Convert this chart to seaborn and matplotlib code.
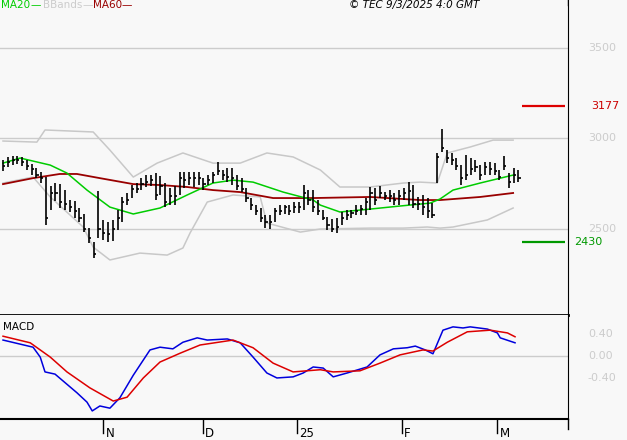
import numpy as np
import pandas as pd
import seaborn as sns
import matplotlib
matplotlib.use("Agg")
import matplotlib.pyplot as plt

high = [2881,2898,2903,2903,2898,2881,2859,2837,2815,2787,2737,2754,2748,2715,2660,2654,2616,2583,2505,2428,
        2710,2550,2538,2550,2605,2677,2699,2743,2754,2781,2798,2798,2809,2793,2754,2726,2737,2815,2815,2815,
        2815,2815,2781,2798,2815,2870,2826,2837,2837,2798,2781,2726,2671,2632,2616,2577,2577,2616,2632,2632,
        2632,2649,2649,2743,2715,2715,2660,2605,2566,2555,2561,2594,2605,2605,2632,2632,2671,2732,2726,2737,
        2704,2715,2699,2715,2726,2759,2743,2677,2688,2671,2643,2920,3052,2936,2920,2892,2853,2909,2892,2881,
        2853,2870,2870,2864,2826,2903,2809,2837,2826]
low = [2820,2842,2853,2859,2848,2826,2798,2781,2754,2522,2605,2654,2616,2605,2594,2561,2538,2483,2422,2340,
       2450,2439,2428,2433,2494,2538,2632,2671,2699,2715,2732,2737,2660,2688,2621,2632,2632,2688,2726,2743,
       2732,2743,2715,2743,2754,2798,2770,2759,2743,2715,2704,2649,2605,2577,2538,2505,2500,2538,2577,2583,
       2577,2588,2588,2605,2632,2594,2577,2550,2494,2483,2478,2522,2550,2561,2577,2577,2577,2605,2632,2671,
       2660,2649,2632,2632,2660,2632,2616,2605,2577,2561,2561,2754,2925,2864,2853,2826,2743,2770,2798,2815,
       2770,2798,2798,2798,2770,2826,2726,2754,2759]
close = [2850,2870,2880,2880,2870,2850,2830,2800,2780,2560,2700,2700,2650,2640,2620,2600,2560,2500,2450,2360,
         2500,2480,2470,2500,2560,2650,2660,2720,2720,2750,2760,2770,2690,2740,2650,2680,2680,2780,2770,2780,
         2780,2780,2750,2770,2800,2820,2800,2790,2780,2740,2720,2670,2630,2600,2560,2540,2540,2600,2600,2620,
         2600,2620,2620,2700,2660,2620,2600,2560,2520,2500,2510,2560,2580,2590,2600,2610,2650,2700,2660,2700,
         2680,2680,2660,2680,2700,2710,2640,2640,2620,2600,2580,2900,2950,2890,2880,2850,2780,2800,2830,2840,
         2800,2840,2830,2820,2790,2850,2760,2800,2780]

ma20_x = [0,3.6,9.9,13.4,17.6,22.4,27.3,32.9,38.6,44.0,48.2,52.4,58.7,65.0,66.5,70.6,76.9,83.2,89.5,91.6,94.3,100,106.9]
ma20_y = [2864,2892,2853,2809,2715,2621,2583,2616,2688,2754,2770,2759,2704,2660,2632,2594,2610,2627,2643,2666,2715,2754,2798]
ma60_x = [0,6.3,11.9,15.5,20.3,27.3,32.9,38.6,44.0,49.7,56.6,65.0,76.9,87.4,91.6,100,106.9]
ma60_y = [2748,2781,2804,2804,2781,2748,2743,2732,2715,2704,2671,2671,2677,2660,2660,2677,2699]
bbu_x = [0,7.1,8.8,18.9,22.4,27.3,32.3,37.7,44.0,49.7,55.3,60.8,66.5,70.6,76.9,83.9,87.4,91.0,93.1,97.9,102.7,106.9]
bbu_y = [2986,2980,3047,3036,2936,2787,2864,2920,2864,2864,2920,2898,2826,2732,2732,2754,2759,2754,2920,2953,2991,2991]
bbl_x = [0,6.3,9.9,16.8,18.9,22.4,28.7,34.4,37.7,39.2,42.8,48.2,53.9,55.3,62.3,66.5,76.9,83.9,88.9,91.6,94.3,101.5,106.9]
bbl_y = [2754,2787,2677,2511,2400,2329,2367,2356,2395,2478,2649,2688,2677,2533,2483,2500,2505,2505,2511,2505,2511,2550,2616]

macd_x = [0,6.3,7.8,8.8,10.9,15.5,17.6,18.7,20.3,22.4,24.5,27.3,30.8,32.9,35.6,37.7,40.7,42.8,47.0,49.7,52.4,55.3,
          57.4,60.8,62.9,65.0,67.1,69.2,72.1,76.3,79.0,81.8,84.7,86.4,88.5,90.1,92.2,94.3,96.4,97.9,101.5,103.6,104.2,107.3]
macd_y = [0.29,0.16,-0.02,-0.29,-0.33,-0.67,-0.84,-1.00,-0.91,-0.95,-0.76,-0.35,0.11,0.16,0.13,0.25,0.33,0.29,0.31,0.24,
          -0.02,-0.31,-0.40,-0.38,-0.31,-0.20,-0.22,-0.38,-0.31,-0.20,0.02,0.13,0.15,0.18,0.11,0.04,0.47,0.53,0.51,0.53,
          0.49,0.42,0.33,0.24]
sig_x = [0,5.7,9.9,13.4,18.2,23.1,26.0,29.4,32.9,37.1,41.3,48.2,52.4,56.6,60.8,66.5,69.2,74.8,79.0,83.2,88.0,90.1,93.1,97.3,102.1,105.7,107.3]
sig_y = [0.36,0.24,-0.02,-0.29,-0.58,-0.82,-0.75,-0.40,-0.11,0.05,0.20,0.29,0.15,-0.13,-0.29,-0.25,-0.29,-0.27,-0.13,0.02,0.11,0.09,0.25,0.44,0.47,0.42,0.35]

month_pos = [21.0, 41.9, 61.6, 83.6, 103.6]
month_lab = ["N", "D", "25", "F", "M"]
price_ticks = [3500, 3000, 2500]
macd_ticks = [0.40, 0.00, -0.40]
macd_tick_lab = ["0.40", "0.00", "-0.40"]
resist, support = 3177, 2430

bg = "#f8f8f8"
fig = plt.figure(figsize=(6.27, 4.40), dpi=100, facecolor=bg)
ax = fig.add_axes([0, (440-315)/440, 568/627, 315/440], facecolor=bg)
ax2 = fig.add_axes([0, 21/440, 568/627, 104/440], facecolor=bg)
xlim = (-0.63, 118.4)
for a in (ax, ax2):
    a.set_xlim(*xlim)
    for s in ("left", "top"):
        a.spines[s].set_visible(False)
    a.spines["right"].set_color("black")
    a.spines["bottom"].set_color("black")
    a.set_yticks([]); a.set_xticks([])
ax.spines["bottom"].set_linewidth(2)
ax2.spines["bottom"].set_linewidth(1.5)
ax.set_ylim(2025, 3765)
ax2.set_ylim(-1.147, 0.746)

for p in price_ticks:
    ax.axhline(p, color="#cccccc", lw=1)
    ax.text(1.035, p, f"{p}", transform=ax.get_yaxis_transform(), color="#cccccc",
            fontsize=8, va="center", ha="left")

sns.lineplot(x=bbu_x, y=bbu_y, ax=ax, color="#c8c8c8", lw=1.1)
sns.lineplot(x=bbl_x, y=bbl_y, ax=ax, color="#c8c8c8", lw=1.1)
sns.lineplot(x=ma60_x, y=ma60_y, ax=ax, color="#990000", lw=1.3)
sns.lineplot(x=ma20_x, y=ma20_y, ax=ax, color="#00cc00", lw=1.1)

idx = np.arange(len(close))
ax.vlines(idx, low, high, color="black", lw=1.2)
ax.hlines(close, idx, idx + 0.45, color="black", lw=1.2)

ax.hlines(resist, 108.7, 117.7, color="#dd0000", lw=1.6)
ax.hlines(support, 108.7, 117.7, color="#009900", lw=1.6)
ax.text(1.04, resist, f"{resist}", transform=ax.get_yaxis_transform(), color="#cc0000", fontsize=8, va="center")
ax.text(1.01, support, f"{support}", transform=ax.get_yaxis_transform(), color="#009900", fontsize=8, va="center")

fig.text(0.002, 0.988, "MA20", color="#00cc00", fontsize=7.5, va="center")
fig.text(0.048, 0.988, "—", color="#00cc00", fontsize=7.5, va="center")
fig.text(0.068, 0.988, "BBands", color="#cccccc", fontsize=7.5, va="center")
fig.text(0.131, 0.988, "—", color="#cccccc", fontsize=7.5, va="center")
fig.text(0.148, 0.988, "MA60", color="#990000", fontsize=7.5, va="center")
fig.text(0.193, 0.988, "—", color="#990000", fontsize=7.5, va="center")
fig.text(0.765, 0.988, "© TEC 9/3/2025 4:0 GMT", color="black", fontsize=7.5, style="italic", ha="right", va="center")

ax2.axhline(0, color="#cccccc", lw=1)
sns.lineplot(x=macd_x, y=macd_y, ax=ax2, color="#0000dd", lw=1.1)
sns.lineplot(x=sig_x, y=sig_y, ax=ax2, color="#dd0000", lw=1.1)
ax2.text(0.005, 0.88, "MACD", transform=ax2.transAxes, fontsize=7.5, va="center")
for v, l in zip(macd_ticks, macd_tick_lab):
    ax2.text(1.035, v, l, transform=ax2.get_yaxis_transform(), color="#cccccc", fontsize=8, va="center")

for p, l in zip(month_pos, month_lab):
    ax2.plot([p, p], [0, -0.13], transform=ax2.get_xaxis_transform(), color="black", lw=1, clip_on=False)
    ax2.text(p + 0.5, -0.14, l, transform=ax2.get_xaxis_transform(), fontsize=8.5, va="center", ha="left")

ax2.plot([1, 1], [0, -0.1], transform=ax2.transAxes, color="black", lw=1, clip_on=False)
ax.plot([1, 1], [1, 0.985], transform=ax.transAxes, color="black", lw=1)
ax.set_xlabel(""); ax.set_ylabel(""); ax2.set_xlabel(""); ax2.set_ylabel("")
fig.savefig("out.png", dpi=100, facecolor=bg)
